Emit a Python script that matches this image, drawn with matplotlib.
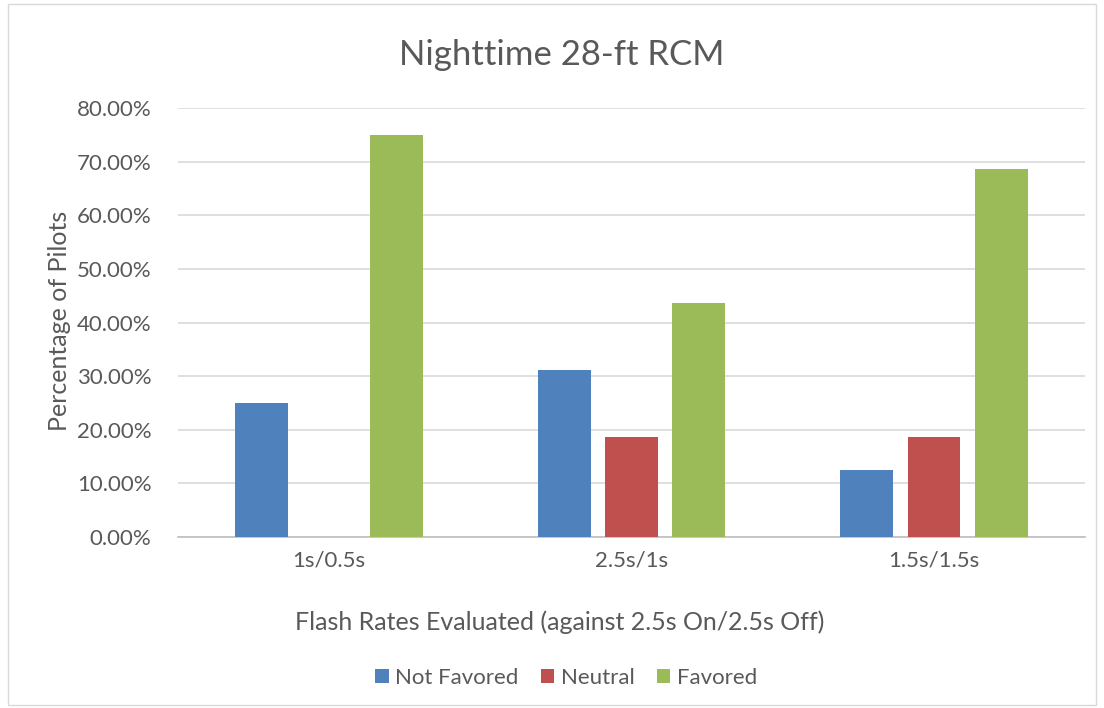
import matplotlib
matplotlib.use("Agg")
import matplotlib.pyplot as plt
import numpy as np
from matplotlib.patches import Rectangle

categories = ["1s/0.5s", "2.5s/1s", "1.5s/1.5s"]
not_favored = [25.0, 31.25, 12.5]
neutral = [0.0, 18.75, 18.75]
favored = [75.0, 43.75, 68.75]
series_names = ["Not Favored", "Neutral", "Favored"]
colors = ["#4F81BD", "#C0504D", "#9BBB59"]

plt.rcParams['font.family'] = ['Lato', 'DejaVu Sans']
txt = "#595959"

fig = plt.figure(figsize=(11.04, 7.08), dpi=100)
fig.patches.append(Rectangle((0.007, 0.004), 0.986, 0.99, transform=fig.transFigure,
                             fill=False, edgecolor="#D9D9D9", linewidth=1))
ax = fig.add_axes([0.161, 0.2415, 0.822, 0.6055])

x = np.arange(len(categories))
offs = [-0.222, 0.0, 0.222]
w = 0.175
for data, off, c, name in zip([not_favored, neutral, favored], offs, colors, series_names):
    ax.bar(x + off, data, width=w, color=c, label=name, zorder=3)

ax.set_xlim(-0.5, 2.5)
ax.set_ylim(0, 80)
yt = np.arange(0, 81, 10)
ax.set_yticks(yt)
ax.set_yticklabels([f"{v:.2f}%" for v in yt], color=txt, fontsize=16)
ax.set_xticks(x)
ax.set_xticklabels(categories, color=txt, fontsize=16)
ax.tick_params(axis='both', length=0)
ax.tick_params(axis='x', pad=10)
ax.tick_params(axis='y', pad=19)
ax.grid(axis='y', color="#D9D9D9", linewidth=1.2, zorder=0)
for s in ['top', 'right', 'left']:
    ax.spines[s].set_visible(False)
ax.spines['bottom'].set_color("#BFBFBF")
ax.spines['bottom'].set_linewidth(1.2)

fig.text(0.054, 0.547, "Percentage of Pilots", fontsize=18, color=txt, ha='center', va='center', rotation=90)
fig.text(0.507, 0.121, "Flash Rates Evaluated (against 2.5s On/2.5s Off)", fontsize=18, color=txt, ha='center', va='center')
fig.text(0.509, 0.922, "Nighttime 28-ft RCM", fontsize=25, color=txt, ha='center', va='center')

leg = fig.legend(loc='center', bbox_to_anchor=(0.513, 0.042), ncol=3, frameon=False,
                 fontsize=16, handlelength=0.6, handleheight=0.6, columnspacing=1.0, handletextpad=0.3)
for t in leg.get_texts():
    t.set_color(txt)

fig.savefig("out.png", dpi=100)
